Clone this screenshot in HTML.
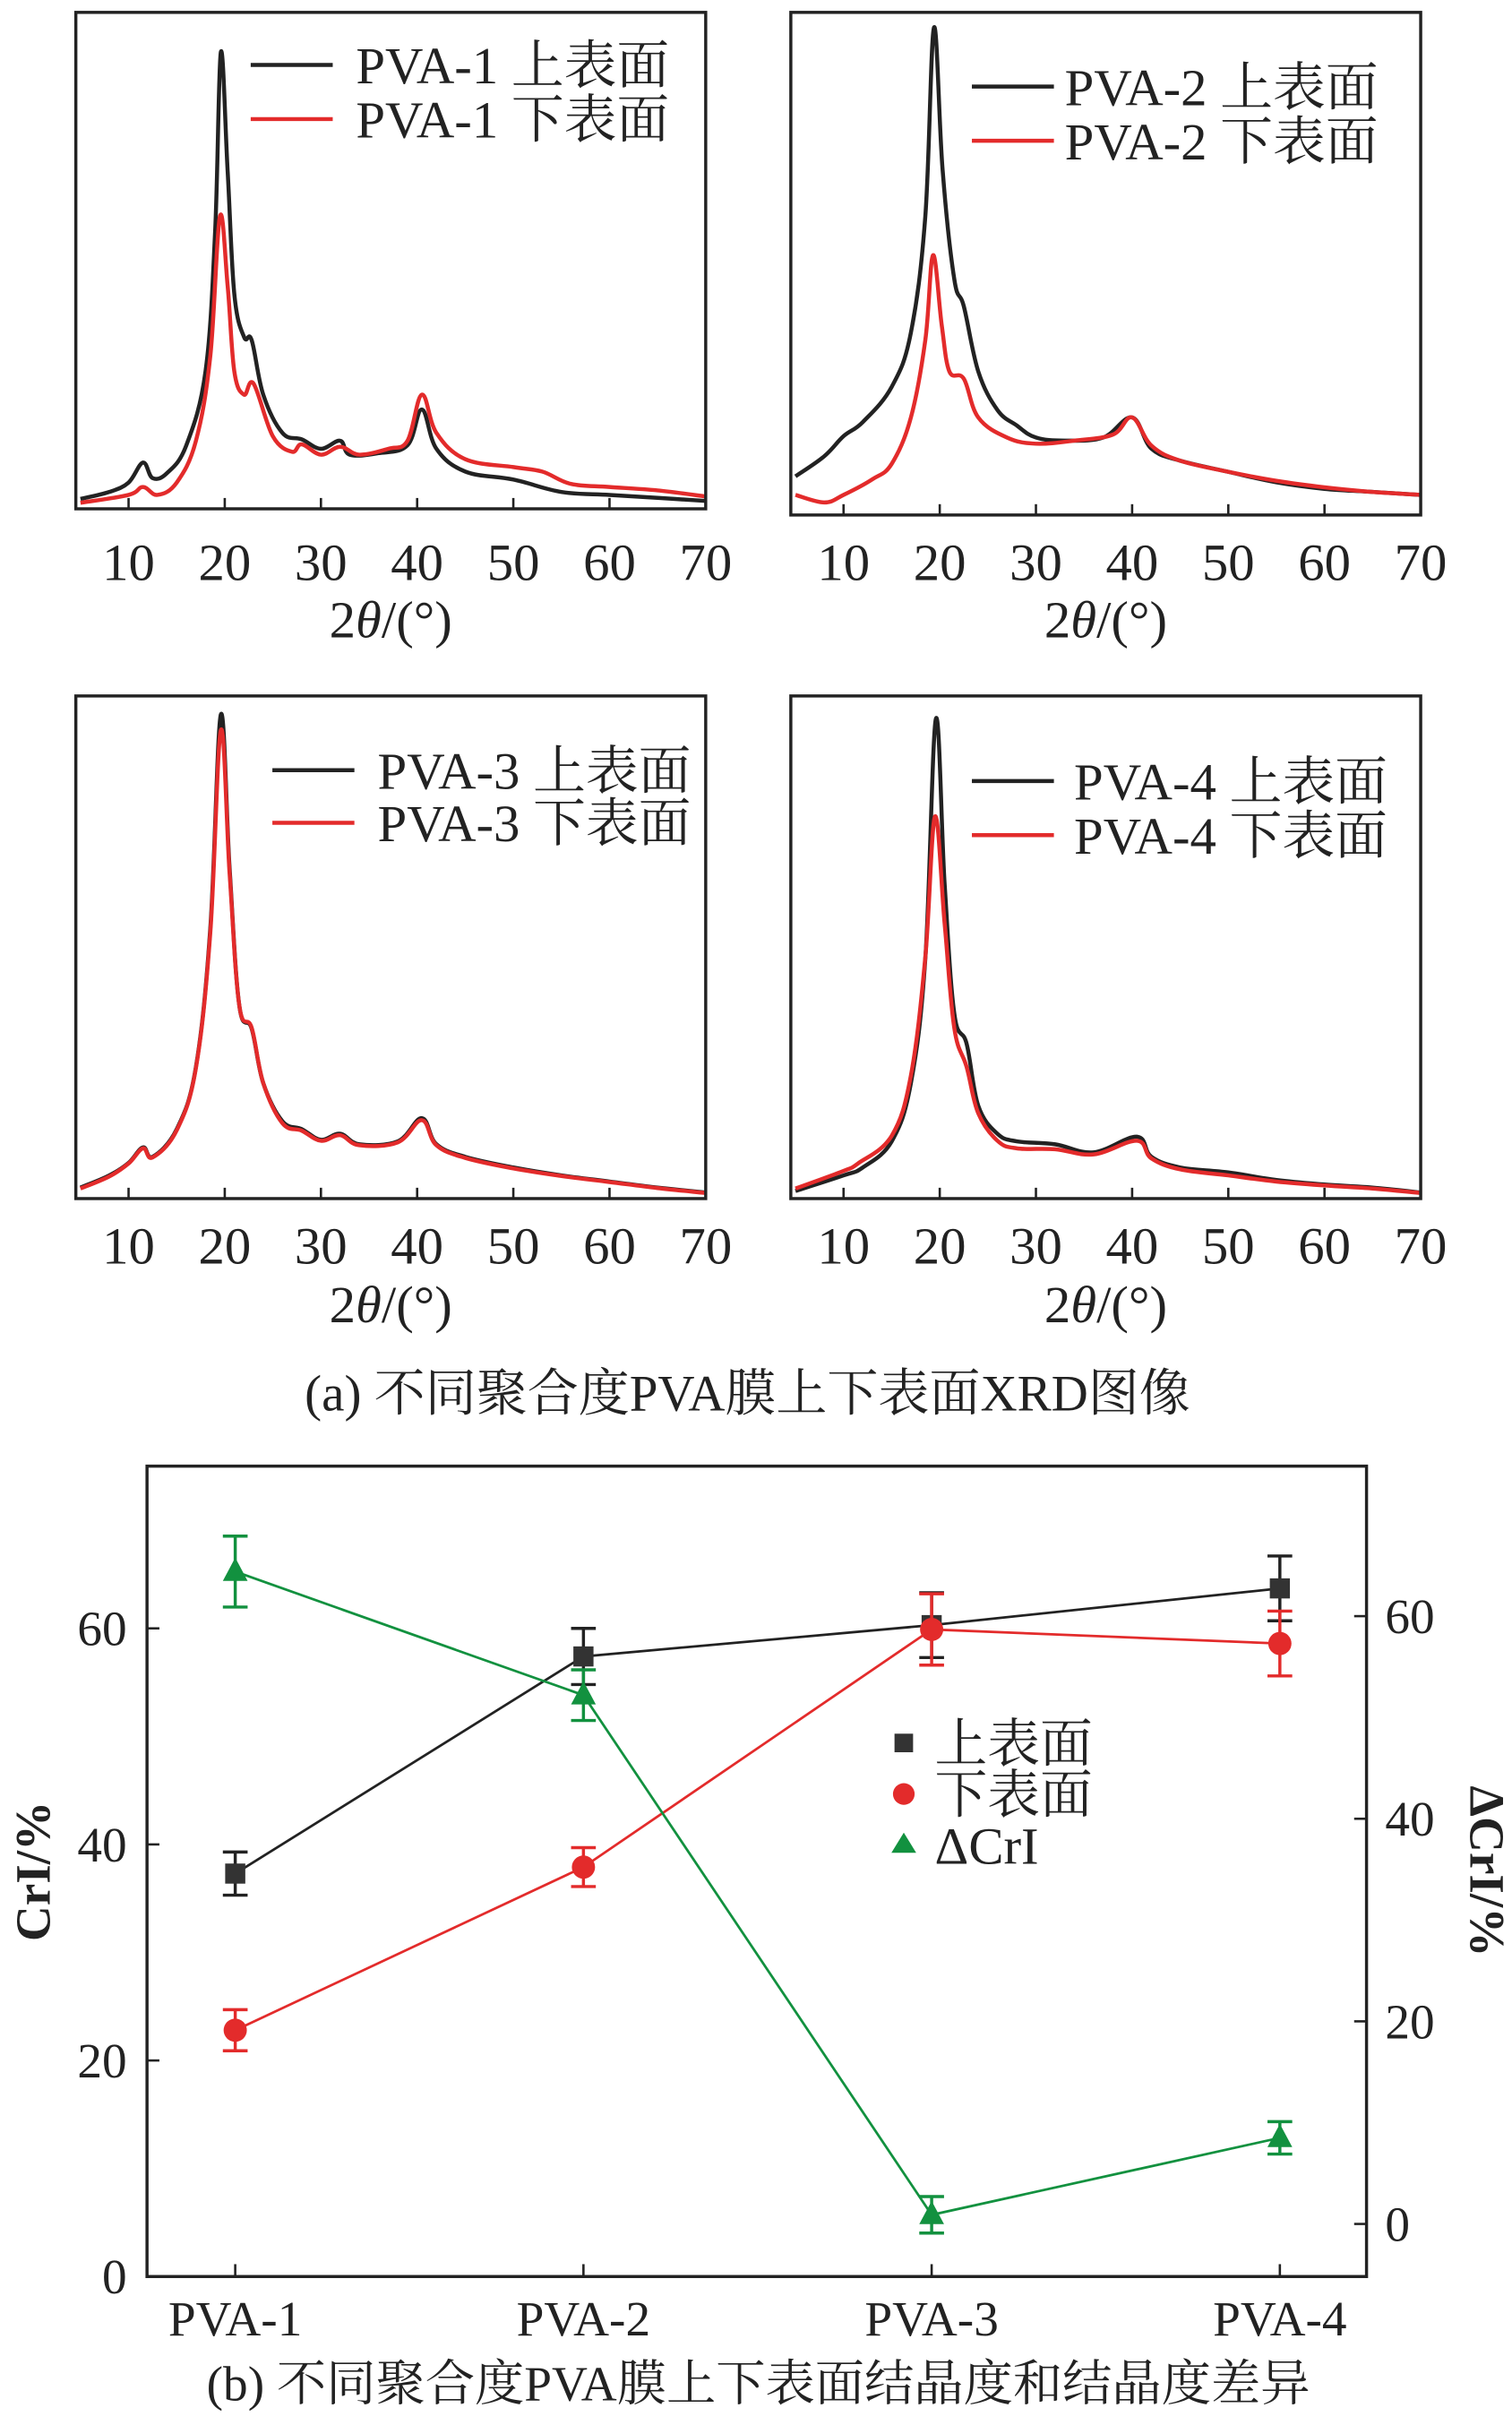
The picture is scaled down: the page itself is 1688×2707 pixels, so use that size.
<!DOCTYPE html>
<html><head><meta charset="utf-8"><style>
html,body{margin:0;padding:0;background:#fff;}
svg{display:block;}
text{font-family:"Liberation Serif","Noto Serif CJK SC",serif;fill:#222;}
</style></head>
<body>
<svg id="fig" width="1688" height="2707" viewBox="0 0 977 1568" preserveAspectRatio="none" xmlns="http://www.w3.org/2000/svg">
<g id="xrd"></g>
<text x="483" y="912" font-size="33" text-anchor="middle">(a) 不同聚合度PVA膜上下表面XRD图像</text>
<g id="crib"></g>
<text x="490" y="1552" font-size="32" text-anchor="middle">(b) 不同聚合度PVA膜上下表面结晶度和结晶度差异</text>
</svg>
<script>
// ---- XRD data: [2theta, relative intensity 0-100] ----
const p1Upper=[[5,2],[8,3.4],[10,5.3],[11.5,9.3],[12.5,6.2],[14,7.2],[16,12.8],[18,27.7],[19,55.8],[19.6,92],[20.3,68],[21,43.3],[22,34.6],[22.8,34],[24,23],[26,15.3],[28,14],[30,12.1],[32,13.7],[33,10.9],[36,11.2],[39,12.8],[40.5,20],[42,12.1],[45,7.5],[50,5.9],[55,3.4],[60,2.8],[65,2.2],[70,1.6]];
const p1Lower=[[5,1.2],[10,2.8],[11.5,4.4],[13,2.8],[15,5.3],[17,13.7],[18.5,30.8],[19.5,58.9],[20.3,44.9],[21,27.7],[22,23],[23,25.2],[25,14.6],[27,11.5],[28,13],[30,10.9],[32,12.5],[34,10.9],[37,12.1],[39,13.7],[40.5,23],[42,15.3],[45,10],[50,8.4],[53,7.5],[56,5],[60,4.4],[65,3.7],[70,2.5]];
const p2Upper=[[5,7.7],[8,11.7],[10,15.7],[12,18.5],[15,25.5],[17,36.3],[18.5,59.4],[19.4,97],[20.3,68.6],[21.5,47],[22.5,41.5],[24,28.6],[26,20.9],[28,17.8],[30,15.4],[33,14.8],[37,15.4],[40,19.4],[42,13.2],[45,10.8],[50,8.6],[55,6.5],[60,5.2],[65,4.6],[70,4]];
const p2Lower=[[5,4],[8,2.5],[10,4],[13,7.1],[15,10.2],[17,19.4],[18.5,34.8],[19.3,51.7],[20.2,37.8],[21,28.6],[22.5,27.1],[24,19.4],[27,15.4],[30,14.2],[34,14.8],[38,16],[40,19.4],[42,13.8],[45,10.8],[50,8.6],[55,6.8],[60,5.5],[65,4.6],[70,4]];
const p3Upper=[[5,2.2],[8,4.6],[10,7.1],[11.5,10.2],[12.5,8.3],[15,13.8],[17,26.2],[18.5,53.8],[19.6,96.3],[20.5,66],[21.5,38.5],[22.8,33.8],[24,23],[26,15.4],[28,13.8],[30,11.7],[32,12.9],[34,10.8],[38,11.4],[40.5,16],[42,10.8],[45,8.3],[50,6.2],[55,4.6],[60,3.4],[65,2.2],[70,1.2]];
const p3Lower=[[5,2],[8,4.4],[10,7],[11.5,10],[12.5,8.2],[15,13.6],[17,26],[18.5,53],[19.6,93.2],[20.5,65],[21.5,38.5],[22.8,34],[24,23],[26,15],[28,13.5],[30,11.5],[32,12.6],[34,10.6],[38,11.2],[40.5,15.6],[42,10.6],[45,8.1],[50,6],[55,4.5],[60,3.3],[65,2.1],[70,1.1]];
const p4Upper=[[5,1.5],[10,4.6],[12,6.2],[15,11.4],[17,23],[18.5,47.7],[19.6,95.4],[20.5,63],[21.5,36.9],[22.8,30.8],[24,18.5],[26,12.9],[28,11.4],[32,10.8],[36,9.2],[40.5,12.3],[42,8.3],[45,6.2],[50,5.2],[55,3.7],[60,2.8],[65,2.2],[70,1.2]];
const p4Lower=[[5,2],[10,5.5],[11.5,7],[15,12.5],[17,24.5],[18.5,48],[19.5,76],[20.5,55],[21.5,34],[22.8,26.2],[24,17],[26,11.5],[28,10],[32,9.8],[36,8.8],[40.5,11.5],[42,8],[45,5.8],[50,4.6],[55,3.4],[60,2.6],[65,2],[70,1.1]];
const xTicks=[10,20,30,40,50,60,70];
const panelNames=["PVA-1","PVA-2","PVA-3","PVA-4"];

// ---- CrI data ----
const categories=["PVA-1","PVA-2","PVA-3","PVA-4"];
const upperCrI=[37.3,57.4,60.3,63.7];
const upperErr=[2,2.6,3,3];
const lowerCrI=[22.8,37.9,59.9,58.6];
const lowerErr=[1.9,1.8,3.3,3];
const deltaCrI=[64.4,52.2,0.9,8.5];
const deltaErr=[3.5,2.5,1.8,1.6];
const leftTicks=[0,20,40,60];
const rightTicks=[0,20,40,60];

const NS="http://www.w3.org/2000/svg";
function mk(tag,attrs,parent){const e=document.createElementNS(NS,tag);for(const k in attrs)e.setAttribute(k,attrs[k]);parent.appendChild(e);return e;}
function smooth(pts){
  let d='M'+pts[0][0].toFixed(1)+','+pts[0][1].toFixed(1);
  for(let i=0;i<pts.length-1;i++){
    const p0=pts[Math.max(0,i-1)],p1=pts[i],p2=pts[i+1],p3=pts[Math.min(pts.length-1,i+2)];
    const t=0.18;
    const c1x=p1[0]+(p2[0]-p0[0])*t,c1y=p1[1]+(p2[1]-p0[1])*t;
    const c2x=p2[0]-(p3[0]-p1[0])*t,c2y=p2[1]-(p3[1]-p1[1])*t;
    d+=' C'+c1x.toFixed(1)+','+c1y.toFixed(1)+' '+c2x.toFixed(1)+','+c2y.toFixed(1)+' '+p2[0].toFixed(1)+','+p2[1].toFixed(1);
  }
  return d;
}

const xrd=document.getElementById('xrd');
const panels=[
 {x0:49,x1:456,y0:8,y1:329,up:p1Upper,lo:p1Lower,lx:162,lt:230,ly:42,ly2:77,lab:375,tit:412},
 {x0:511,x1:918,y0:8,y1:333,up:p2Upper,lo:p2Lower,lx:628,lt:688,ly:56,ly2:91,lab:375,tit:412},
 {x0:49,x1:456,y0:450,y1:775,up:p3Upper,lo:p3Lower,lx:176,lt:244,ly:498,ly2:532,lab:817,tit:855},
 {x0:511,x1:918,y0:450,y1:775,up:p4Upper,lo:p4Lower,lx:628,lt:694,ly:505,ly2:540,lab:817,tit:855}
];
panels.forEach((p,i)=>{
  const g=mk('g',{},xrd);
  
  
  const xs=v=>p.x1-(70-v)*(p.x1-p.x0-3)/65;
  const ys=v=>p.y1-v*(p.y1-p.y0)/100;
  [[p.up,'#222'],[p.lo,'#e32b2b']].forEach((s,j)=>{
    const pl=mk('path',{d:smooth(s[0].map(d=>[xs(d[0]),ys(d[1])])),fill:'none',stroke:s[1],'stroke-width':2.6,'stroke-linejoin':'round'},g);
    
    
  });
  const fr=mk('rect',{x:p.x0,y:p.y0,width:p.x1-p.x0,height:p.y1-p.y0,fill:'none',stroke:'#222','stroke-width':2},g);
  
  
  xTicks.forEach(t=>{
    mk('line',{x1:xs(t),x2:xs(t),y1:p.y1,y2:p.y1-7,stroke:'#222','stroke-width':1.5},g);
    const tx=mk('text',{x:xs(t),y:p.lab,'font-size':34,'text-anchor':'middle'},g);
    tx.textContent=t;
    
    
  });
  const tt=mk('text',{x:(p.x0+p.x1)/2,y:p.tit,'font-size':34,'text-anchor':'middle'},g);
  tt.innerHTML='2<tspan font-style="italic">θ</tspan>/(°)';
  
  
  [[p.ly,'#222','上表面'],[p.ly2,'#e32b2b','下表面']].forEach(l=>{
    mk('line',{x1:p.lx,x2:p.lx+53,y1:l[0],y2:l[0],stroke:l[1],'stroke-width':2.6},g);
    const lt=mk('text',{x:p.lt,y:l[0]+12,'font-size':34},g);
    lt.textContent=panelNames[i]+' '+l[2];
    
    
  });
});

// ---- Chart b ----
const cb=document.getElementById('crib');
const X0=95,X1=883,Y0=948,Y1=1472;
const xc=i=>152+i*225;
const yl=v=>1472-v*139.7/20;
const yr=v=>1438-v*131/20;
const frame=mk('rect',{x:X0,y:Y0,width:X1-X0,height:Y1-Y0,fill:'none',stroke:'#222','stroke-width':2},cb);


leftTicks.forEach(t=>{
  mk('line',{x1:X0,x2:X0+8,y1:yl(t),y2:yl(t),stroke:'#222','stroke-width':1.5},cb);
  const e=mk('text',{x:82,y:yl(t)+11,'font-size':32,'text-anchor':'end'},cb);e.textContent=t;
  
  
});
rightTicks.forEach(t=>{
  mk('line',{x1:X1,x2:X1-8,y1:yr(t),y2:yr(t),stroke:'#222','stroke-width':1.5},cb);
  const e=mk('text',{x:895,y:yr(t)+11,'font-size':32},cb);e.textContent=t;
  
  
});
categories.forEach((c,i)=>{
  mk('line',{x1:xc(i),x2:xc(i),y1:Y1,y2:Y1-8,stroke:'#222','stroke-width':1.5},cb);
  const e=mk('text',{x:xc(i),y:1510,'font-size':32,'text-anchor':'middle'},cb);e.textContent=c;
  
  
});
const yt=mk('text',{x:0,y:0,'font-size':32,'font-weight':'bold','text-anchor':'middle',transform:'translate(32,1210) rotate(-90)'},cb);
yt.textContent='CrI/%';


const yt2=mk('text',{x:0,y:0,'font-size':32,'font-weight':'bold','text-anchor':'middle',transform:'translate(950,1210) rotate(90)'},cb);
yt2.textContent='ΔCrI/%';



function series(vals,errs,ys,color,shape,name){
  const g=mk('g',{},cb);
  
  
  mk('polyline',{points:vals.map((v,i)=>xc(i)+','+ys(v)).join(' '),fill:'none',stroke:color,'stroke-width':1.6},g);
  vals.forEach((v,i)=>{
    const x=xc(i),a=ys(v+errs[i]),b=ys(v-errs[i]);
    mk('line',{x1:x,x2:x,y1:a,y2:b,stroke:color,'stroke-width':2},g);
    mk('line',{x1:x-8,x2:x+8,y1:a,y2:a,stroke:color,'stroke-width':2},g);
    mk('line',{x1:x-8,x2:x+8,y1:b,y2:b,stroke:color,'stroke-width':2},g);
    let m;
    const y=ys(v);
    if(shape==='sq')m=mk('rect',{x:x-6.5,y:y-6.5,width:13,height:13,fill:'#333'},g);
    else if(shape==='ci')m=mk('circle',{cx:x,cy:y,r:7.5,fill:color},g);
    else m=mk('polygon',{points:`${x},${y-9} ${x-8},${y+6} ${x+8},${y+6}`,fill:color},g);
    
    
  });
}
series(upperCrI,upperErr,yl,'#222','sq','upper-surface');
series(lowerCrI,lowerErr,yl,'#e32b2b','ci','lower-surface');
series(deltaCrI,deltaErr,yr,'#12913f','tr','delta-cri');

const lg=mk('g',{},cb);


mk('rect',{x:578,y:1121,width:12,height:12,fill:'#333'},lg);
mk('circle',{cx:584,cy:1160,r:7,fill:'#e32b2b'},lg);
mk('polygon',{points:'584,1185 576,1198 592,1198',fill:'#12913f'},lg);
[['上表面',1139],['下表面',1172],['ΔCrI',1205]].forEach(l=>{
  const e=mk('text',{x:604,y:l[1],'font-size':34},lg);e.textContent=l[0];
  
  
});
</script>
</body></html>
